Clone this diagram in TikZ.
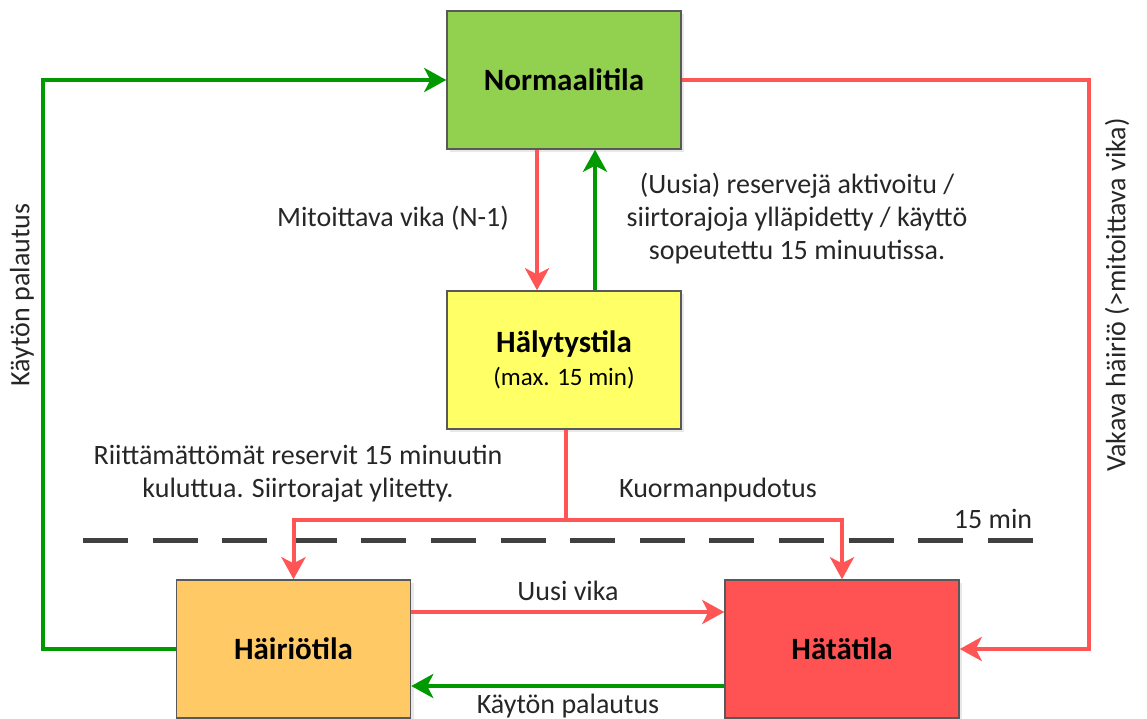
\documentclass[tikz,border=0pt]{standalone}
\usepackage{fontspec}
\setmainfont{Carlito}
\usetikzlibrary{arrows.meta,shadows}

\definecolor{normfill}{HTML}{92D050}
\definecolor{halyfill}{HTML}{FFFF66}
\definecolor{hairfill}{HTML}{FFC965}
\definecolor{hatafill}{HTML}{FF5252}
\definecolor{redline}{HTML}{FF5555}
\definecolor{greenline}{HTML}{009900}
\definecolor{boxline}{HTML}{595959}
\definecolor{dashgray}{HTML}{404040}

\tikzset{
  state/.style={draw=boxline, line width=1.5pt, minimum width=234pt, minimum height=138pt,
    font=\fontsize{31}{35}\selectfont\bfseries, align=center,
    drop shadow={opacity=0.18, shadow xshift=3pt, shadow yshift=-3pt}},
  redarrow/.style={draw=redline, line width=4pt},
  greenarrow/.style={draw=greenline, line width=4pt},
  lbl/.style={text=black!85, align=center}
}

\begin{document}
\begin{tikzpicture}[x=1pt, y=-1pt, font=\fontsize{28}{33}\selectfont,
  >={Stealth[length=22pt,width=24pt,inset=6pt]}]
\useasboundingbox (0,0) rectangle (1147,719);

% states
\node[state, fill=normfill] (normaali) at (564,80) {Normaalitila};
\node[state, fill=halyfill] (haly) at (564,360) {Hälytystila\\[-2pt]{\fontsize{25}{28}\selectfont\mdseries (max. 15 min)}};
\node[state, fill=hairfill] (hairio) at (293.5,649) {Häiriötila};
\node[state, fill=hatafill] (hata) at (842,649) {Hätätila};

% 15 min limit
\draw[dashgray, line width=5pt, dash pattern=on 45pt off 24.6pt] (83,540) -- (1035,540);
\node[lbl] (raja) at (993,519) {15 min};

% transitions
\draw[redarrow,->] ([xshift=-27pt]normaali.south) -- ([xshift=-27pt]haly.north);
\draw[greenarrow,->] ([xshift=31pt]haly.north) -- ([xshift=31pt]normaali.south);
\coordinate (jako) at (566,520);
\draw[redarrow,->] ([xshift=2pt]haly.south) -- (jako) -| (hairio.north);
\draw[redarrow,->] (jako) -| (hata.north);
\draw[redarrow,->] ([yshift=37pt]hairio.east) -- ([yshift=37pt]hata.west);
\draw[greenarrow,->] ([yshift=-37pt]hata.west) -- ([yshift=-37pt]hairio.east);
\draw[greenarrow,->] (hairio.west) -- ++(-133,0) |- (normaali.west);
\draw[redarrow,->] (normaali.east) -- ++(407,0) |- (hata.east);

% labels
\node[lbl] (mitoittava) at (393,218) {Mitoittava vika (N-1)};
\node[lbl] (aktivoitu) at (797,219) {(Uusia) reservejä aktivoitu /\\siirtorajoja ylläpidetty / käyttö\\sopeutettu 15 minuutissa.};
\node[lbl] (riittamaton) at (298,474) {Riittämättömät reservit 15 minuutin\\kuluttua. Siirtorajat ylitetty.};
\node[lbl] (kuorma) at (718,490) {Kuormanpudotus};
\node[lbl] (uusivika) at (568,591) {Uusi vika};
\node[lbl] (palautus) at (568,706) {Käytön palautus};
\node[lbl, rotate=90] (palautus2) at (22,295) {Käytön palautus};
\node[lbl, rotate=90] (vakava) at (1117,295) {Vakava häiriö (>mitoittava vika)};
\end{tikzpicture}
\end{document}
